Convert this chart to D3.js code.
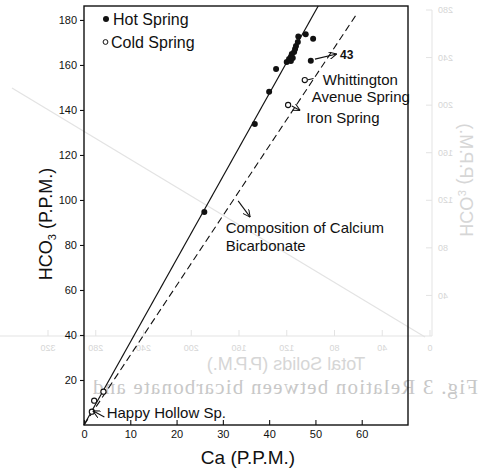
<!DOCTYPE html>
<html>
<head>
<meta charset="utf-8">
<script src="https://cdn.jsdelivr.net/npm/d3@7"></script>
<style>
  html, body { margin: 0; padding: 0; background: #ffffff; }
  svg { display: block; }
</style>
</head>
<body>
<script>
// ---------------- data ----------------
const hotCa   = [26.0, 36.9, 40.0, 41.5, 43.8, 44.3, 44.7, 44.7, 44.9, 45.1, 45.4, 45.6, 45.8, 46.2, 46.3, 47.9, 49.5, 49.0];
const hotHCO3 = [94.7, 133.8, 148.1, 158.2, 161.3, 162.7, 163.6, 161.8, 164.9, 163.1, 165.8, 167.1, 168.4, 170.2, 172.6, 173.6, 171.6, 161.9];
const coldCa   = [47.7, 44.1, 4.2, 2.2, 1.7];
const coldHCO3 = [153.3, 142.2, 14.8, 10.8, 5.9];
const xTicks = [0, 10, 20, 30, 40, 50, 60];
const yTicks = [20, 40, 60, 80, 100, 120, 140, 160, 180];
const hotSlope = 3.68;       // fitted hot-spring line HCO3/Ca
const caHCO3Slope = 3.1;     // composition of calcium bicarbonate (dashed)
const legendLabels = ["Hot Spring", "Cold Spring"];
// ghost (bleed-through from the reverse page)
const ghostYTicks = [280, 240, 200, 160, 120, 80, 40];
const ghostXTicks = [320, 280, 240, 200, 160, 120, 80, 40, 0];

// ---------------- setup ----------------
const W = 482, H = 470;
const svg = d3.select("body").append("svg").attr("width", W).attr("height", H);
const font = "'Liberation Sans', Arial, Helvetica, sans-serif";

const x = d3.scaleLinear().domain([0, 70]).range([84, 408]);
const y = d3.scaleLinear().domain([0, 186.2]).range([425, 6]);

// ---------------- ghost layer (mirrored bleed-through) ----------------
const gx = d3.scaleLinear().domain([0, 320]).range([52, 434]);
const gy = d3.scaleLinear().domain([0, 280]).range([343, 10]);
const ghost = svg.append("g").attr("transform", `translate(${W},0) scale(-1,1)`);
const gLine = "#e3e3e3", gText = "#d6d6d6";
ghost.append("line").attr("x1", 50).attr("x2", 50).attr("y1", 10).attr("y2", 336).attr("stroke", gLine);
ghost.append("line").attr("x1", 50).attr("x2", 482).attr("y1", 336).attr("y2", 336).attr("stroke", gLine);
ghostYTicks.forEach(v => {
  ghost.append("line").attr("x1", 50).attr("x2", 56).attr("y1", gy(v)).attr("y2", gy(v)).attr("stroke", gLine);
  ghost.append("text").attr("x", 44).attr("y", gy(v)).attr("dy", "0.35em").attr("text-anchor", "end")
    .attr("font-family", font).attr("font-size", 9).attr("fill", gText).text(v);
});
ghostXTicks.forEach(v => {
  ghost.append("line").attr("x1", gx(v)).attr("x2", gx(v)).attr("y1", 336).attr("y2", 330).attr("stroke", gLine);
  ghost.append("text").attr("x", gx(v)).attr("y", 348).attr("dy", "0.35em").attr("text-anchor", "middle")
    .attr("font-family", font).attr("font-size", 9).attr("fill", gText).text(v);
});
ghost.append("line").attr("x1", 57).attr("y1", 337).attr("x2", 470).attr("y2", 88).attr("stroke", gLine).attr("stroke-width", 1.2);
ghost.append("text").attr("x", 196).attr("y", 364).attr("dy", "0.35em").attr("text-anchor", "middle")
  .attr("font-family", font).attr("font-size", 18).attr("fill", gText).text("Total Solids (P.P.M.)");
ghost.append("text").attr("transform", "translate(16,180) rotate(-90)").attr("dy", "0.35em").attr("text-anchor", "middle")
  .attr("font-family", font).attr("font-size", 18).attr("fill", gText).text("HCO₃ (P.P.M.)");
ghost.append("text").attr("x", 4).attr("y", 387).attr("dy", "0.35em")
  .attr("font-family", "'Liberation Serif', 'DejaVu Serif', serif").attr("font-size", 21).attr("letter-spacing", 1.2)
  .attr("fill", "#c8c8c8").text("Fig. 3  Relation between bicarbonate and");

// ---------------- frame ----------------
svg.append("rect").attr("x", x(0)).attr("y", y(186.2)).attr("width", x(70) - x(0)).attr("height", y(0) - y(186.2))
  .attr("fill", "none").attr("stroke", "#111").attr("stroke-width", 1.4);

// ---------------- axes ----------------
const xAxis = svg.append("g").attr("transform", `translate(0,${y(0)})`)
  .call(d3.axisBottom(x).tickValues(xTicks).tickSizeInner(-5).tickSizeOuter(0).tickPadding(5));
const yAxis = svg.append("g").attr("transform", `translate(${x(0)},0)`)
  .call(d3.axisLeft(y).tickValues(yTicks).tickSizeInner(4).tickSizeOuter(0).tickPadding(3));
[xAxis, yAxis].forEach(a => {
  a.select(".domain").remove();
  a.selectAll(".tick line").attr("stroke", "#111").attr("stroke-width", 1.1);
  a.selectAll(".tick text").attr("font-family", font).attr("font-size", 11).attr("fill", "#111");
});

// axis titles
svg.append("text").attr("x", 248).attr("y", 457).attr("dy", "0.35em").attr("text-anchor", "middle")
  .attr("font-family", font).attr("font-size", 19).attr("fill", "#111").text("Ca (P.P.M.)");
const yt = svg.append("text").attr("transform", "translate(46,224) rotate(-90)").attr("dy", "0.35em")
  .attr("text-anchor", "middle").attr("font-family", font).attr("font-size", 18).attr("fill", "#111");
yt.append("tspan").text("HCO");
yt.append("tspan").attr("font-size", 11).attr("dy", "0.35em").text("3");
yt.append("tspan").attr("dy", "-0.25em").text(" (P.P.M.)");

// ---------------- lines ----------------
const hotTop = 186.2 / hotSlope;
svg.append("line").attr("x1", x(0)).attr("y1", y(0)).attr("x2", x(hotTop)).attr("y2", y(186.2))
  .attr("stroke", "#111").attr("stroke-width", 1.2);
const dashTop = 183;
svg.append("line").attr("x1", x(0)).attr("y1", y(0)).attr("x2", x(dashTop / caHCO3Slope)).attr("y2", y(dashTop))
  .attr("stroke", "#111").attr("stroke-width", 1.1).attr("stroke-dasharray", "7,4");

// ---------------- points ----------------
svg.append("g").selectAll("circle").data(hotCa.map((c, i) => [c, hotHCO3[i]])).join("circle")
  .attr("cx", d => x(d[0])).attr("cy", d => y(d[1])).attr("r", 3).attr("fill", "#111");
svg.append("g").selectAll("circle").data(coldCa.map((c, i) => [c, coldHCO3[i]])).join("circle")
  .attr("cx", d => x(d[0])).attr("cy", d => y(d[1])).attr("r", 2.6)
  .attr("fill", "#fff").attr("stroke", "#111").attr("stroke-width", 1.1);

// ---------------- legend ----------------
svg.append("circle").attr("cx", 106).attr("cy", 19).attr("r", 3).attr("fill", "#111");
svg.append("circle").attr("cx", 105.5).attr("cy", 42).attr("r", 2.4).attr("fill", "#fff").attr("stroke", "#111");
svg.append("text").attr("x", 113).attr("y", 19).attr("dy", "0.35em").attr("font-family", font).attr("font-size", 16)
  .attr("fill", "#111").text(legendLabels[0]);
svg.append("text").attr("x", 111).attr("y", 42).attr("dy", "0.35em").attr("font-family", font).attr("font-size", 16)
  .attr("fill", "#111").text(legendLabels[1]);

// ---------------- annotations ----------------
svg.append("defs").append("marker").attr("id", "arr").attr("viewBox", "0 0 10 10").attr("refX", 10).attr("refY", 5)
  .attr("markerWidth", 7).attr("markerHeight", 7).attr("orient", "auto")
  .append("path").attr("d", "M0,0 L10,5 L0,10").attr("fill", "none").attr("stroke", "#111").attr("stroke-width", 1.3);

const labels = [
  {t: "43", ca: 55.3, h: 164.4, fs: 12, fw: "bold"},
  {t: "Whittington", ca: 51.6, h: 153.3, fs: 15},
  {t: "Avenue Spring", ca: 49.2, h: 145.8, fs: 15},
  {t: "Iron Spring", ca: 48.0, h: 136.4, fs: 15},
  {t: "Composition of Calcium", ca: 30.6, h: 87.6, fs: 15},
  {t: "Bicarbonate", ca: 30.6, h: 79.7, fs: 15},
  {t: "Happy Hollow Sp.", ca: 4.9, h: 5.3, fs: 15}
];
svg.append("g").selectAll("text").data(labels).join("text")
  .attr("x", d => x(d.ca)).attr("y", d => y(d.h)).attr("dy", "0.35em")
  .attr("font-family", font).attr("font-size", d => d.fs).attr("font-weight", d => d.fw || "normal")
  .attr("fill", "#111").text(d => d.t);

const leaders = [
  {a: [49.9, 162.6], b: [54.6, 164.9], arrow: true},
  {a: [48.4, 153.4], b: [49.6, 154.0], arrow: false},
  {a: [44.9, 141.8], b: [46.7, 139.8], arrow: true},
  {a: [33.3, 99.6], b: [35.9, 92.4], arrow: true},
  {a: [4.4, 3.6], b: [1.9, 6.3], arrow: true}
];
svg.append("g").selectAll("line").data(leaders).join("line")
  .attr("x1", d => x(d.a[0])).attr("y1", d => y(d.a[1])).attr("x2", d => x(d.b[0])).attr("y2", d => y(d.b[1]))
  .attr("stroke", "#111").attr("stroke-width", 1.1)
  .attr("marker-end", d => d.arrow ? "url(#arr)" : null);
</script>
</body>
</html>
